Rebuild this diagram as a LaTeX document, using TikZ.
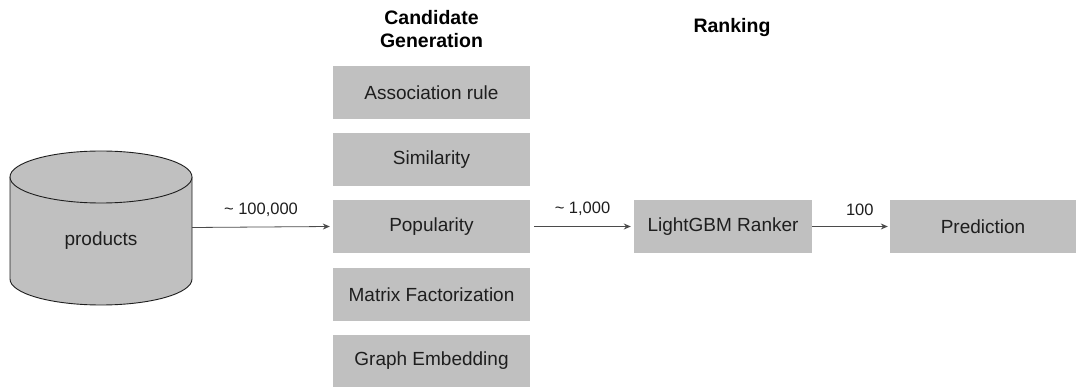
\documentclass[tikz,border=0pt]{standalone}
\usepackage{fontspec}
\setmainfont{Liberation Sans}
\usetikzlibrary{arrows.meta}
\definecolor{boxgray}{HTML}{C0C0C0}
\definecolor{txt}{HTML}{1E1E1E}
\tikzset{
  box/.style={fill=boxgray, draw=none, minimum height=53pt, inner sep=0pt, text=txt, font=\fontsize{19}{22}\selectfont},
  lbl/.style={text=txt, font=\fontsize{16.5}{19}\selectfont, inner sep=0pt},
  hdr/.style={text=black, font=\bfseries\fontsize{19.5}{23}\selectfont, align=center, inner sep=0pt},
  conn/.style={draw=txt!80, line width=0.8pt, -{Stealth[length=7pt,width=6pt]}}
}
\begin{document}
\begin{tikzpicture}[x=1pt,y=-1pt]
\useasboundingbox (0,0) rectangle (1076,387);
% cylinder
\fill[boxgray] (10,177) -- (10,279) arc[start angle=180,end angle=360,x radius=91pt,y radius=26pt] -- (192,177) -- cycle;
\draw[txt, line width=0.9pt] (10,177) -- (10,279) arc[start angle=180,end angle=360,x radius=91pt,y radius=26pt] -- (192,177);
\draw[txt, line width=0.9pt, fill=boxgray] (101,177) ellipse [x radius=91pt, y radius=26pt];
\node[box, fill=none, minimum width=182pt, minimum height=155pt] (db) at (101,227.5) {};
\node[text=txt, font=\fontsize{19}{22}\selectfont, inner sep=0pt] (dbl) at (101,241) {products};
% headers
\node[hdr] (h1) at (431.5,29) {Candidate\\Generation};
\node[hdr] (h2) at (732,28) {Ranking};
% candidate boxes
\node[box, minimum width=197pt] (assoc) at (431.5,92.5) {Association rule};
\node[box, minimum width=197pt] (sim) at (431.5,159.5) {Similarity};
\node[box, minimum width=197pt] (pop) at (431.5,226.5) {Popularity};
\node[box, minimum width=197pt] (mf) at (431.5,294.5) {Matrix Factorization};
\node[box, minimum width=197pt] (ge) at (431.5,361) {Graph Embedding};
% ranking
\node[box, minimum width=178pt] (rank) at (723,226.5) {LightGBM Ranker};
\node[box, minimum width=186pt] (pred) at (983,226.5) {Prediction};
% connectors
\draw[conn] (db.east) -- ([xshift=-3pt]pop.west) node[lbl, midway, above=10pt] (l1) {\~{} 100,000};
\draw[conn] ([xshift=4pt]pop.east) -- ([xshift=-3pt]rank.west) node[lbl, midway, above=10pt] (l2) {\~{} 1,000};
\draw[conn] (rank.east) -- ([xshift=-2pt]pred.west) node[lbl, pos=0.63, above=10pt] (l3) {100};
\end{tikzpicture}
\end{document}
